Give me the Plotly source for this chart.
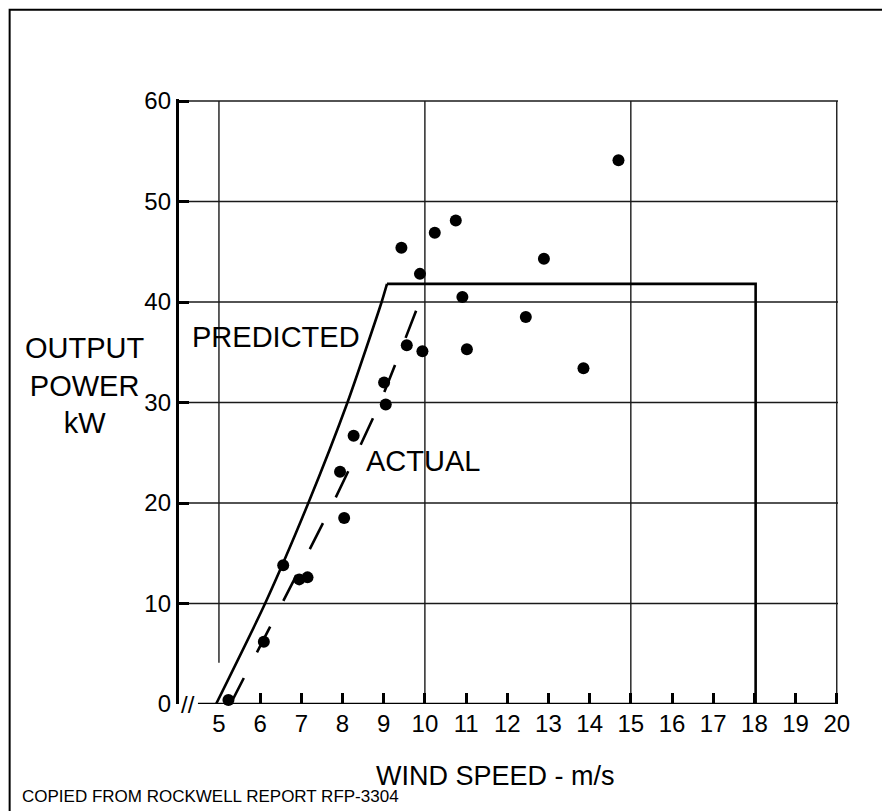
import plotly.graph_objects as go

# measured wind turbine output (dots)
wind_speed = [5.23, 6.09, 6.56, 6.95, 7.15, 7.94, 8.04, 8.27, 9.01, 9.05, 9.43,
              9.56, 9.88, 9.94, 10.24, 10.75, 10.91, 11.02, 12.45, 12.89, 13.85, 14.7]
output_kw = [0.4, 6.2, 13.8, 12.4, 12.6, 23.1, 18.5, 26.7, 32.0, 29.8, 45.4,
             35.7, 42.8, 35.1, 46.9, 48.1, 40.5, 35.3, 38.5, 44.3, 33.4, 54.1]

# predicted power curve (solid): rising part, then rated plateau and cut-out
pred_speed = [4.93, 6.12, 7.17, 8.12, 8.95, 9.08, 18.03, 18.03]
pred_kw = [0, 10, 20, 30, 40, 41.8, 41.8, 0]
RISE = 6  # first RISE points form the curved part

# actual power curve (dashed)
act_speed = [5.28, 6.53, 7.77, 8.91, 9.87, 10.0]
act_kw = [0, 10, 20, 30, 40, 41.3]

x_ticks = list(range(6, 21))
x_labels = list(range(5, 21))
y_ticks = list(range(10, 61, 10))
y_labels = list(range(0, 61, 10))
grid_x = [5, 10, 15, 20]
grid_y = [10, 20, 30, 40, 50, 60]

X_RANGE = [4.03, 20.03]
Y_RANGE = [0, 60.2]
FONT = "Liberation Sans, Arial, Helvetica, sans-serif"

fig = go.Figure()

fig.add_trace(go.Scatter(
    x=pred_speed[:RISE], y=pred_kw[:RISE], mode="lines",
    line=dict(color="black", width=2.6, shape="spline", smoothing=0.6),
    showlegend=False, hoverinfo="skip"
))
fig.add_trace(go.Scatter(
    x=pred_speed[RISE - 1:], y=pred_kw[RISE - 1:], mode="lines",
    line=dict(color="black", width=2.6),
    showlegend=False, hoverinfo="skip"
))
fig.add_trace(go.Scatter(
    x=act_speed, y=act_kw, mode="lines",
    line=dict(color="black", width=2.6, dash="29px,29px", shape="spline", smoothing=0.6),
    showlegend=False, hoverinfo="skip"
))
fig.add_trace(go.Scatter(
    x=wind_speed, y=output_kw, mode="markers",
    marker=dict(color="black", size=12),
    cliponaxis=False, showlegend=False
))
# carrier for the label-only axes
fig.add_trace(go.Scatter(x=[None], y=[None], xaxis="x2", yaxis="y2",
                         showlegend=False, hoverinfo="skip"))

shapes = []
for gx in grid_x:
    shapes.append(dict(type="line", xref="x", yref="y", layer="below",
                       x0=gx, x1=gx, y0=4.1 if gx == 5 else 0, y1=60,
                       line=dict(color="#1a1a1a", width=1.4)))
for gy in grid_y:
    shapes.append(dict(type="line", xref="x", yref="y", layer="below",
                       x0=X_RANGE[0], x1=X_RANGE[1], y0=gy, y1=gy,
                       line=dict(color="#1a1a1a", width=1.4)))
# x axis line, broken near the origin
shapes.append(dict(type="line", xref="x", yref="y", x0=4.49, x1=X_RANGE[1],
                   y0=0, y1=0, line=dict(color="black", width=2.5)))
# outer frame
shapes.append(dict(type="rect", xref="paper", yref="paper",
                   x0=-0.257, x1=1.0713, y0=-0.2, y1=1.1475,
                   line=dict(color="black", width=2)))

annotations = [
    dict(text="//", x=4.24, y=0, xref="x", yref="y", showarrow=False,
         font=dict(size=24, color="black", family=FONT)),
    dict(text="PREDICTED", x=6.38, y=36.5, xref="x", yref="y", showarrow=False,
         font=dict(size=29, color="black", family=FONT)),
    dict(text="ACTUAL", x=9.95, y=24.2, xref="x", yref="y", showarrow=False,
         font=dict(size=29, color="black", family=FONT)),
    dict(text="OUTPUT<br>POWER<br>kW", x=-0.1426, y=0.527, xref="paper", yref="paper",
         xanchor="center", yanchor="middle", showarrow=False, align="center",
         font=dict(size=29, color="black", family=FONT)),
    dict(text="WIND SPEED - m/s", x=0.481, y=-0.119, xref="paper", yref="paper",
         xanchor="center", yanchor="middle", showarrow=False,
         font=dict(size=27, color="black", family=FONT)),
    dict(text="COPIED FROM ROCKWELL REPORT RFP-3304", x=-0.2413, y=-0.1537,
         xref="paper", yref="paper", xanchor="left", yanchor="middle", showarrow=False,
         font=dict(size=17, color="black", family=FONT)),
]

fig.update_layout(
    width=882, height=803,
    margin=dict(l=171, r=52, t=91, b=107),
    paper_bgcolor="white", plot_bgcolor="white",
    font=dict(family=FONT, color="black"),
    shapes=shapes, annotations=annotations,
    xaxis=dict(range=X_RANGE, tickvals=x_ticks, ticks="inside", ticklen=11,
               tickwidth=3, tickcolor="black", showticklabels=False,
               showgrid=False, zeroline=False, showline=False),
    yaxis=dict(range=Y_RANGE, tickvals=y_ticks, ticks="inside", ticklen=10,
               tickwidth=3, tickcolor="black", showticklabels=False,
               showgrid=False, zeroline=False, showline=True,
               linecolor="black", linewidth=2.5),
    xaxis2=dict(range=X_RANGE, overlaying="x", side="bottom", tickvals=x_labels,
                ticktext=[str(v) for v in x_labels], ticks="", showgrid=False,
                zeroline=False, showline=False, ticklabelstandoff=3,
                tickfont=dict(size=24, color="black", family=FONT)),
    yaxis2=dict(range=Y_RANGE, overlaying="y", side="left", tickvals=y_labels,
                ticktext=[str(v) for v in y_labels], ticks="", showgrid=False,
                zeroline=False, showline=False, ticklabelstandoff=7,
                tickfont=dict(size=24, color="black", family=FONT)),
)

fig.write_html("out.html")
